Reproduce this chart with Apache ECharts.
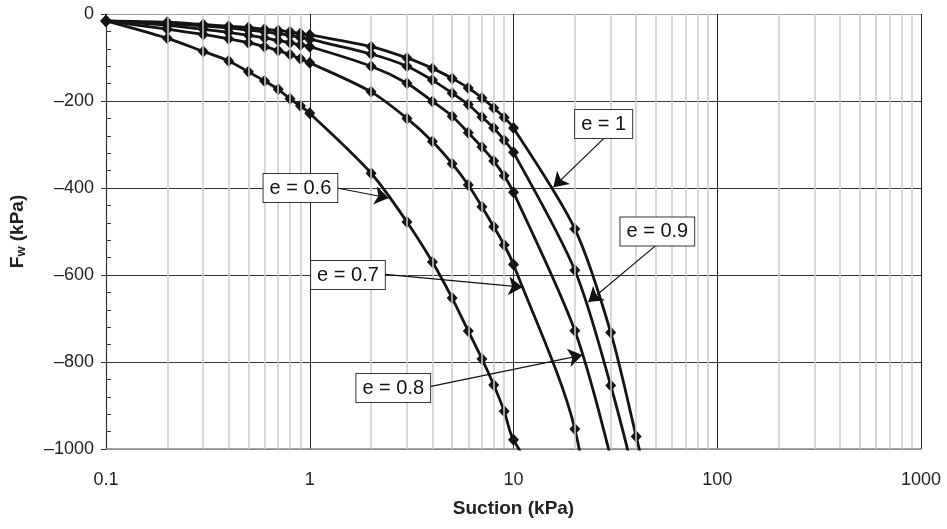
<!DOCTYPE html>
<html>
<head>
<meta charset="utf-8">
<script src="https://cdn.jsdelivr.net/npm/echarts@6/dist/echarts.min.js"></script>
<style>
  html, body { margin: 0; padding: 0; background: #fff; }
  #chart { width: 947px; height: 529px; }
</style>
</head>
<body>
<div id="chart"></div>
<script>
// suction values (kPa) shared by all curves
var suction = [0.1, 0.2, 0.3, 0.4, 0.5, 0.6, 0.7, 0.8, 0.9, 1, 2, 3, 4, 5, 6, 7, 8, 9, 10, 20, 30, 40, 50];

// Fw (kPa) per void ratio, last value of each runs past the axis bottom
var fwE10 = [-16, -19, -24, -28, -31, -35, -38, -41, -45, -48, -75, -101, -125, -148, -170, -193, -216, -238, -262, -494, -732, -971, -1160];
var fwE09 = [-16, -22, -27, -32, -37, -41, -45, -49, -54, -58, -92, -120, -152, -182, -208, -237, -262, -290, -318, -589, -854, -1080];
var fwE08 = [-16, -26, -35, -42, -49, -55, -61, -66, -71, -75, -120, -159, -201, -235, -273, -306, -338, -372, -410, -728, -1020];
var fwE07 = [-16, -35, -47, -57, -66, -75, -84, -93, -103, -112, -179, -240, -293, -344, -393, -443, -489, -531, -576, -954, -1500];
var fwE06 = [-16, -56, -86, -108, -133, -154, -173, -195, -211, -228, -366, -478, -570, -653, -729, -793, -853, -913, -979, -1200];

var curveNames = ['e = 1', 'e = 0.9', 'e = 0.8', 'e = 0.7', 'e = 0.6'];
var curveValues = [fwE10, fwE09, fwE08, fwE07, fwE06];

// annotation boxes and arrows (data coordinates)
var labelAt = [[27.7, -253], [50.8, -500], [2.57, -860], [1.54, -600], [0.90, -400]];
var arrowFrom = [[27.6, -287], [49.7, -533], [3.83, -857], [2.28, -598], [1.36, -400]];
var arrowTo = [[15.7, -398], [23.3, -662], [21.8, -784], [11.07, -628], [2.44, -423]];

var decades = [0.1, 1, 10, 100];

var FONT = "'Liberation Sans', Arial, sans-serif";

var minorX = [];
decades.forEach(function (d) {
    for (var k = 2; k <= 9; k++) minorX.push({xAxis: +(d * k).toPrecision(3)});
});

var dom = document.getElementById('chart');
var myChart = echarts.init(dom);

var series = [];

// light minor grid lines of the log axis
series.push({
    type: 'line',
    data: [],
    silent: true,
    z: 1,
    markLine: {
        silent: true,
        symbol: ['none', 'none'],
        label: {show: false},
        animation: false,
        lineStyle: {color: '#cbcbcb', width: 1.5, type: 'solid'},
        data: minorX
    }
});

curveNames.forEach(function (name, i) {
    series.push({
        name: name,
        type: 'line',
        z: 3,
        smooth: 0.3,
        symbol: 'diamond',
        symbolSize: function (v) { return v[1] < -1000 ? 0 : [11, 12]; },
        showAllSymbol: true,
        clip: true,
        lineStyle: {color: '#141414', width: 2.8},
        itemStyle: {color: '#141414'},
        data: curveValues[i].map(function (v, j) { return [suction[j], v]; })
    });
});

// arrows
series.push({
    type: 'line',
    data: [],
    z: 4,
    markLine: {
        silent: true,
        animation: false,
        symbol: ['none', 'arrow'],
        symbolSize: 14,
        label: {show: false},
        lineStyle: {color: '#111', width: 1.2, type: 'solid', opacity: 1},
        data: arrowFrom.map(function (p, i) {
            return [{coord: p}, {coord: arrowTo[i]}];
        })
    }
});

// boxed labels
series.push({
    type: 'scatter',
    z: 5,
    symbolSize: 0,
    silent: true,
    data: labelAt.map(function (p, i) { return {name: curveNames[i], value: p}; }),
    label: {
        show: true,
        position: 'inside',
        formatter: '{b}',
        fontFamily: FONT,
        fontSize: 20,
        color: '#111',
        opacity: 1,
        backgroundColor: '#fff',
        borderColor: '#333',
        borderWidth: 1,
        padding: [4, 6, 4, 6]
    },
    itemStyle: {opacity: 1}
});

option = {
    animation: false,
    backgroundColor: '#fff',
    grid: {left: 105, right: 26, top: 14, bottom: 80},
    xAxis: {
        type: 'log',
        logBase: 10,
        min: 0.1,
        max: 1000,
        name: 'Suction (kPa)',
        nameLocation: 'middle',
        nameGap: 50,
        nameTextStyle: {fontFamily: "'Liberation Sans Narrow', " + FONT, fontWeight: 'bold', fontSize: 19, color: '#222'},
        axisLine: {show: true, onZero: false, lineStyle: {color: '#888', width: 1.5}},
        axisTick: {show: false},
        axisLabel: {
            fontFamily: FONT, fontSize: 18, color: '#222', margin: 22,
            formatter: function (v) { return String(+v.toPrecision(3)); }
        },
        splitLine: {show: true, lineStyle: {color: '#222', width: 1}}
    },
    yAxis: [{
        type: 'value',
        min: -1000,
        max: 0,
        interval: 200,
        name: '{b|F}{s|w}{b| (kPa)}',
        nameLocation: 'middle',
        nameGap: 78,
        nameRotate: 90,
        nameTextStyle: {
            rich: {
                b: {fontFamily: FONT, fontWeight: 'bold', fontSize: 19, color: '#222'},
                s: {fontFamily: FONT, fontWeight: 'bold', fontSize: 13, color: '#222', verticalAlign: 'bottom', padding: [8, 0, 0, 0]}
            }
        },
        axisLine: {show: true, onZero: false, lineStyle: {color: '#333', width: 1.2}},
        axisTick: {show: true, inside: false, length: 5, lineStyle: {color: '#333'}},
        axisLabel: {
            fontFamily: FONT, fontSize: 18, color: '#222', margin: 12,
            formatter: function (v) { return v < 0 ? '\u2013' + Math.abs(v) : String(v); }
        },
        splitLine: {show: true, lineStyle: {color: ['#999', '#333', '#333', '#333', '#333', '#999'], width: 1}}
    }, {
        type: 'value',
        min: -1000,
        max: 0,
        interval: 200,
        position: 'left',
        axisLine: {show: false},
        axisLabel: {show: false},
        axisTick: {show: false, inside: true},
        minorTick: {show: true, splitNumber: 5, length: 5, lineStyle: {color: '#333'}},
        splitLine: {show: false}
    }],
    series: series
};

myChart.setOption(option, true);
</script>
</body>
</html>
